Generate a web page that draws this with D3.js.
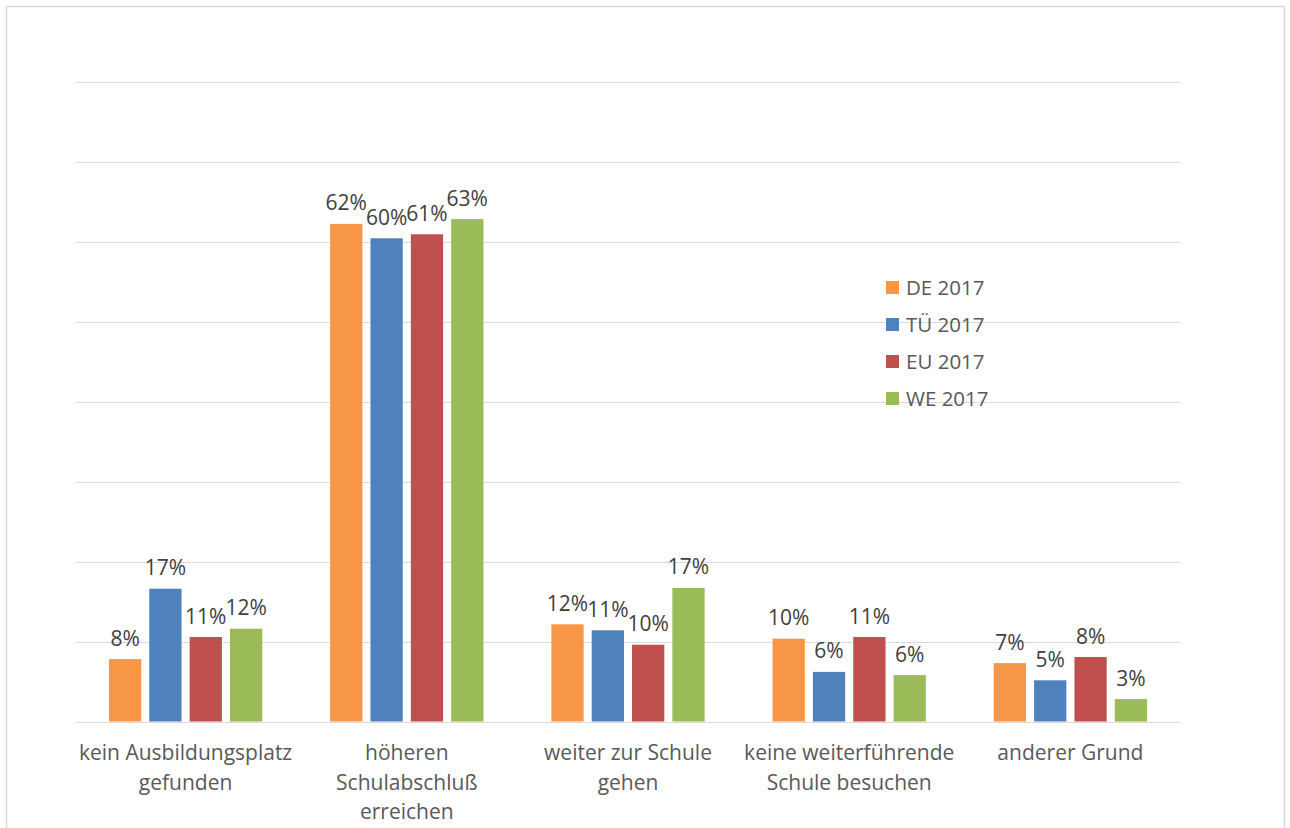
<!DOCTYPE html>
<meta charset="utf-8">
<title>Gründe</title>
<script src="https://d3js.org/d3.v7.min.js"></script>
<style>
body { margin: 0; background: #fff; }
text { font-family: "Open Sans", "Noto Sans", sans-serif; }
</style>
<body>
<div id="chart"></div>
<script>
// categories (tick labels split into lines)
var categories = ["kein Ausbildungsplatz gefunden", "höheren Schulabschluß erreichen",
  "weiter zur Schule gehen", "keine weiterführende Schule besuchen", "anderer Grund"];
var categoryLines = [
  ["kein Ausbildungsplatz", "gefunden"],
  ["höheren", "Schulabschluß", "erreichen"],
  ["weiter zur Schule", "gehen"],
  ["keine weiterführende", "Schule besuchen"],
  ["anderer Grund"]
];
var series = ["DE 2017", "TÜ 2017", "EU 2017", "WE 2017"];
var colors = ["#F79646", "#4F81BD", "#C0504D", "#9BBB59"];

// values in percent, one per category
var de = [7.8, 62.2, 12.15, 10.35, 7.3];
var tu = [16.6, 60.4, 11.4, 6.2, 5.15];
var eu = [10.56, 60.9, 9.6, 10.56, 8.06];
var we = [11.6, 62.8, 16.7, 5.8, 2.8];
var values = [de, tu, eu, we];

var yTicks = [0, 10, 20, 30, 40, 50, 60, 70, 80];

var W = 1290, H = 828;
var svg = d3.select("#chart").append("svg")
  .attr("width", W).attr("height", H);

// outer frame
svg.append("rect")
  .attr("x", 6.5).attr("y", 6.5)
  .attr("width", 1278).attr("height", 900)
  .attr("fill", "#fff").attr("stroke", "#d9d9d9").attr("stroke-width", 1.5);

var x0 = d3.scaleBand()
  .domain(categories)
  .range([75, 1181])
  .paddingInner(0.307)
  .paddingOuter(0.1535);

var x1 = d3.scaleBand()
  .domain(series)
  .range([0, x0.bandwidth()])
  .paddingInner(0.2);

var y = d3.scaleLinear()
  .domain([0, 80])
  .range([721.5, 81.5]);

// gridlines
svg.append("g").selectAll("line")
  .data(yTicks)
  .enter().append("line")
    .attr("x1", 75).attr("x2", 1181)
    .attr("y1", function(d) { return Math.round(y(d)) + 0.5; })
    .attr("y2", function(d) { return Math.round(y(d)) + 0.5; })
    .attr("stroke", "#d9d9d9").attr("stroke-width", 1);

// bars
var groups = svg.append("g").selectAll("g")
  .data(series)
  .enter().append("g")
    .attr("fill", function(d, i) { return colors[i]; });

groups.selectAll("rect")
  .data(function(s, i) { return values[i].map(function(v, j) { return {s: s, c: categories[j], v: v}; }); })
  .enter().append("rect")
    .attr("x", function(d) { return x0(d.c) + x1(d.s); })
    .attr("width", x1.bandwidth())
    .attr("y", function(d) { return y(d.v); })
    .attr("height", function(d) { return y(0) - y(d.v); });

// data labels
groups.selectAll("text")
  .data(function(s, i) { return values[i].map(function(v, j) { return {s: s, c: categories[j], v: v}; }); })
  .enter().append("text")
    .attr("x", function(d) { return x0(d.c) + x1(d.s) + x1.bandwidth() / 2; })
    .attr("y", function(d) { return y(d.v) - 13.5; })
    .attr("text-anchor", "middle")
    .attr("fill", "#404040")
    .style("font-size", "21px")
    .text(function(d) { return Math.round(d.v) + "%"; });

// category labels
var cat = svg.append("g").selectAll("text")
  .data(categories)
  .enter().append("text")
    .attr("text-anchor", "middle")
    .attr("fill", "#595959")
    .style("font-size", "21px")
    .attr("x", function(d) { return x0(d) + x0.bandwidth() / 2; })
    .attr("y", 760);

cat.selectAll("tspan")
  .data(function(d, i) { return categoryLines[i]; })
  .enter().append("tspan")
    .attr("x", function() { return d3.select(this.parentNode).attr("x"); })
    .attr("dy", function(d, i) { return i === 0 ? 0 : 29.5; })
    .text(function(d) { return d; });

// legend
var legend = svg.append("g").selectAll("g")
  .data(series)
  .enter().append("g")
    .attr("transform", function(d, i) { return "translate(886," + (281 + i * 37) + ")"; });

legend.append("rect")
  .attr("width", 13).attr("height", 13)
  .attr("fill", function(d, i) { return colors[i]; });

legend.append("text")
  .attr("x", 20).attr("y", 14)
  .attr("fill", "#595959")
  .style("font-size", "20.5px")
  .text(function(d) { return d; });
</script>
</body>
